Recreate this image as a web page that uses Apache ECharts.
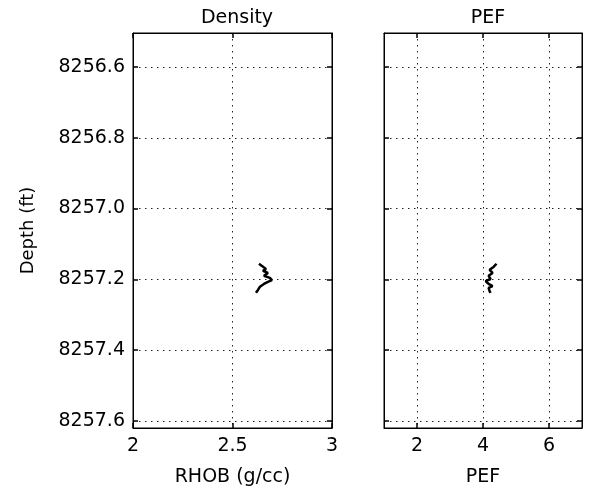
<!DOCTYPE html>
<html><head><meta charset="utf-8">
<script src="https://cdn.jsdelivr.net/npm/echarts@6/dist/echarts.min.js"></script>
<style>html,body{margin:0;padding:0;background:#fff}#c{width:593px;height:497px}</style>
</head><body><div id="c"></div>
<script>
// ---- data ----
const depthTicks = [8256.6, 8256.8, 8257.0, 8257.2, 8257.4, 8257.6];
const rhobTicks = [2, 2.5, 3];
const pefTicks = [2, 4, 6];
const depthRange = [8256.504, 8257.62];
const rhobRange = [2, 3];
const pefRange = [1, 7];

const rhobDepth  = [8257.156, 8257.162, 8257.171, 8257.176, 8257.182, 8257.190, 8257.196, 8257.202, 8257.207, 8257.213, 8257.221, 8257.230, 8257.238];
const rhobValues = [2.633, 2.648, 2.668, 2.653, 2.678, 2.658, 2.688, 2.698, 2.678, 2.658, 2.638, 2.628, 2.618];

const pefDepth  = [8257.156, 8257.165, 8257.173, 8257.182, 8257.190, 8257.199, 8257.205, 8257.210, 8257.213, 8257.219, 8257.224, 8257.233, 8257.238];
const pefValues = [4.41, 4.32, 4.20, 4.29, 4.17, 4.23, 4.08, 4.02, 4.17, 4.29, 4.17, 4.20, 4.23];

// ---- chart ----
const FONT = 'DejaVu Sans';
const FS = 19;
const dotted = { color: '#222', width: 1, type: [1.5, 4.5] };
const tickStyle = { show: true, inside: true, length: 5, lineStyle: { color: '#000', width: 1.5 } };
const axLine = { show: true, onZero: false, lineStyle: { color: '#000', width: 1 } };
const lbl = { color: '#000', fontFamily: FONT, fontSize: FS };

function xAx(grid, pos, range, ticks, name, showLabels) {
  return {
    type: 'value', gridIndex: grid, position: pos, min: range[0], max: range[1],
    axisLine: axLine,
    axisTick: Object.assign({}, tickStyle, { customValues: ticks }),
    axisLabel: Object.assign({}, lbl, { show: showLabels, customValues: ticks, margin: 9,
      showMinLabel: true, showMaxLabel: true, formatter: v => String(v) }),
    splitLine: { show: showLabels, lineStyle: dotted },
    name: showLabels ? name : '', nameLocation: 'middle', nameGap: 40,
    nameTextStyle: Object.assign({}, lbl)
  };
}
function yAx(grid, pos, showLabels, name) {
  return {
    type: 'value', gridIndex: grid, position: pos, inverse: true,
    min: depthRange[0], max: depthRange[1],
    axisLine: axLine,
    axisTick: Object.assign({}, tickStyle, { customValues: depthTicks }),
    axisLabel: Object.assign({}, lbl, { show: showLabels, customValues: depthTicks, margin: 8,
      formatter: v => Number(v).toFixed(1) }),
    splitLine: { show: pos === 'left', lineStyle: dotted },
    name: name || '', nameLocation: 'middle', nameGap: 96, nameRotate: 90,
    nameTextStyle: Object.assign({}, lbl, { fontSize: 18 })
  };
}

const chart = echarts.init(document.getElementById('c'), null, { renderer: 'canvas' });
chart.setOption({
  animation: false,
  backgroundColor: '#fff',
  title: [
    { text: 'Density', left: 232, top: 4, textAlign: 'center',
      textStyle: { color: '#000', fontFamily: FONT, fontSize: FS, fontWeight: 'normal' } },
    { text: 'PEF', left: 483, top: 4, textAlign: 'center',
      textStyle: { color: '#000', fontFamily: FONT, fontSize: FS, fontWeight: 'normal' } }
  ],
  grid: [
    { left: 133, top: 33, width: 199, height: 395, show: true, borderColor: '#000', borderWidth: 1 },
    { left: 384, top: 33, width: 198, height: 395, show: true, borderColor: '#000', borderWidth: 1 }
  ],
  xAxis: [
    xAx(0, 'bottom', rhobRange, rhobTicks, 'RHOB (g/cc)', true),
    xAx(0, 'top', rhobRange, rhobTicks, '', false),
    xAx(1, 'bottom', pefRange, pefTicks, 'PEF', true),
    xAx(1, 'top', pefRange, pefTicks, '', false)
  ],
  yAxis: [
    yAx(0, 'left', true, 'Depth (ft)'),
    yAx(0, 'right', false),
    yAx(1, 'left', false),
    yAx(1, 'right', false)
  ],
  series: [
    { type: 'line', xAxisIndex: 0, yAxisIndex: 0, symbol: 'none',
      lineStyle: { color: '#000', width: 2.5 },
      data: rhobValues.map((v, i) => [v, rhobDepth[i]]) },
    { type: 'line', xAxisIndex: 2, yAxisIndex: 2, symbol: 'none',
      lineStyle: { color: '#000', width: 2.5 },
      data: pefValues.map((v, i) => [v, pefDepth[i]]) }
  ]
});
</script>
</body></html>
